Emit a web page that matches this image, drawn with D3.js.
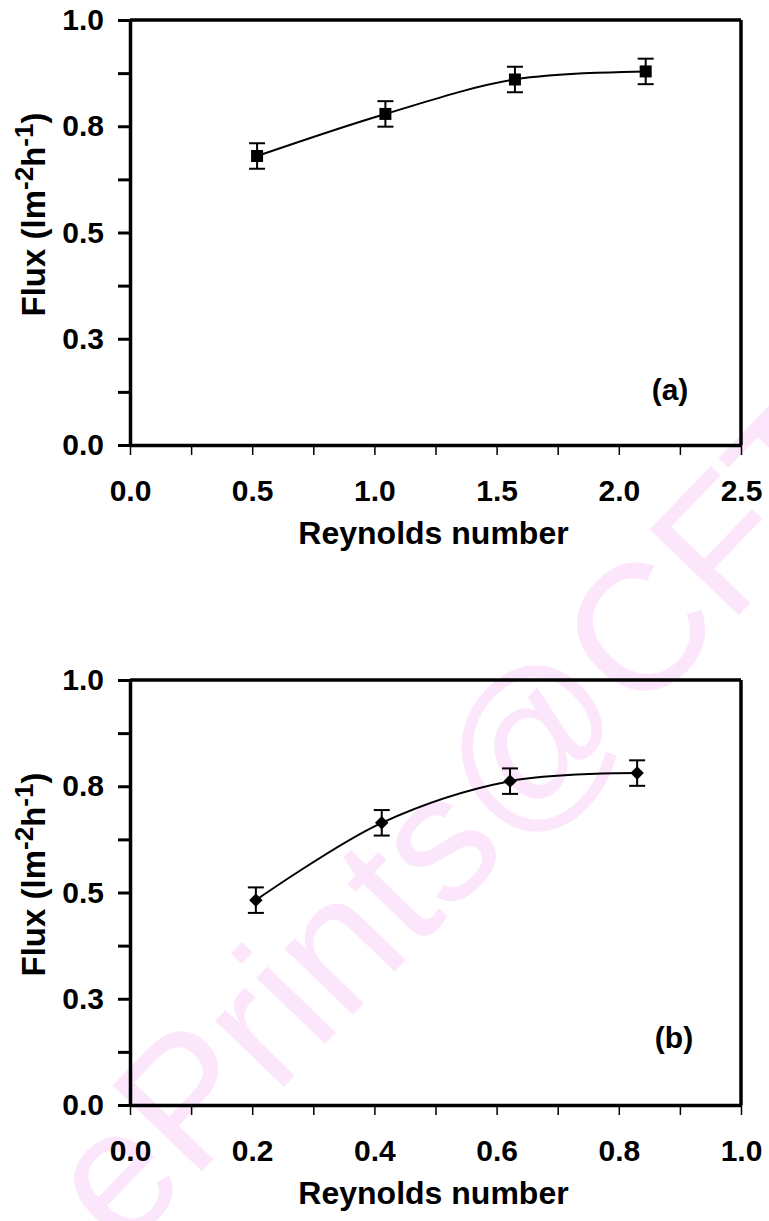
<!DOCTYPE html>
<html>
<head>
<meta charset="utf-8">
<script src="https://cdn.jsdelivr.net/npm/d3@7"></script>
<style>
  html, body { margin: 0; padding: 0; background: #fff; }
  svg { display: block; }
  text { font-family: "Liberation Sans", Arial, Helvetica, sans-serif; }
</style>
</head>
<body>
<svg id="chart" width="769" height="1221"></svg>
<script>
// ---- Panel (a): flux against Reynolds number (square markers)
const reynoldsA = [0.52, 1.045, 1.575, 2.11];
const fluxA     = [0.680, 0.779, 0.860, 0.879];
const errorA    = [0.03, 0.03, 0.03, 0.03];

// ---- Panel (b): flux against Reynolds number (diamond markers)
const reynoldsB = [0.206, 0.412, 0.622, 0.830];
const fluxB     = [0.482, 0.664, 0.762, 0.781];
const errorB    = [0.03, 0.03, 0.03, 0.03];

// ---- Axis ticks and labels
const yMajorTicks  = [0, 0.25, 0.5, 0.75, 1.0];
const yTickLabels  = ["0.0", "0.3", "0.5", "0.8", "1.0"];
const yMinorTicks  = [0.125, 0.375, 0.625, 0.875];

const xMajorTicksA = [0, 0.5, 1.0, 1.5, 2.0, 2.5];
const xTickLabelsA = ["0.0", "0.5", "1.0", "1.5", "2.0", "2.5"];
const xMinorTicksA = [0.25, 0.75, 1.25, 1.75, 2.25];

const xMajorTicksB = [0, 0.2, 0.4, 0.6, 0.8, 1.0];
const xTickLabelsB = ["0.0", "0.2", "0.4", "0.6", "0.8", "1.0"];
const xMinorTicksB = [0.1, 0.3, 0.5, 0.7, 0.9];

const panelLabels = ["(a)", "(b)"];
const xTitle = "Reynolds number";

const svg = d3.select("#chart");

// Faint repository stamp running diagonally behind both plots
svg.append("text")
  .attr("transform", "translate(122,1254) rotate(-46)")
  .attr("font-size", 180)
  .attr("fill", "#fce6fc")
  .text("ePrints@CFTRI");

const plotLeft = 130, plotWidth = 611, plotHeight = 425;
const fontSize = 30;
const titleSize = 32;

function drawPanel(cfg) {
  const g = svg.append("g").attr("transform", `translate(${plotLeft},${cfg.top})`);

  const x = d3.scaleLinear().domain(cfg.xDomain).range([0, plotWidth]);
  const y = d3.scaleLinear().domain([0, 1]).range([plotHeight, 0]);

  // frame: top and right edges
  g.append("line").attr("x1", 0).attr("x2", plotWidth).attr("y1", 0).attr("y2", 0)
    .attr("stroke", "#000").attr("stroke-width", 3.5);
  g.append("line").attr("x1", plotWidth).attr("x2", plotWidth).attr("y1", 0).attr("y2", plotHeight)
    .attr("stroke", "#000").attr("stroke-width", 3.5);

  // y axis
  const yTicks = yMajorTicks.concat(yMinorTicks).sort(d3.ascending);
  const yAxis = d3.axisLeft(y)
    .tickValues(yTicks)
    .tickSize(12)
    .tickSizeOuter(0)
    .tickPadding(14)
    .tickFormat(v => {
      const i = yMajorTicks.indexOf(v);
      return i >= 0 ? yTickLabels[i] : "";
    });
  const ya = g.append("g").call(yAxis);
  ya.select(".domain").attr("stroke-width", 3.5);
  ya.selectAll(".tick line").attr("stroke-width", 3);
  ya.selectAll(".tick text")
    .attr("font-size", fontSize).attr("font-weight", "bold")
    .attr("font-family", "Liberation Sans, Arial, sans-serif").attr("fill", "#000");

  // x axis
  const xTicks = cfg.xMajor.concat(cfg.xMinor).sort(d3.ascending);
  const xAxis = d3.axisBottom(x)
    .tickValues(xTicks)
    .tickSize(10)
    .tickSizeOuter(0)
    .tickPadding(25)
    .tickFormat(v => {
      const i = cfg.xMajor.indexOf(v);
      return i >= 0 ? cfg.xLabels[i] : "";
    });
  const xa = g.append("g").attr("transform", `translate(0,${plotHeight})`).call(xAxis);
  xa.select(".domain").attr("stroke-width", 3.5);
  xa.selectAll(".tick line").attr("stroke-width", 1.5);
  xa.selectAll(".tick text")
    .attr("font-size", fontSize).attr("font-weight", "bold")
    .attr("font-family", "Liberation Sans, Arial, sans-serif").attr("fill", "#000");

  // axis titles
  g.append("text")
    .attr("x", plotWidth / 2 - 2).attr("y", plotHeight + 99)
    .attr("text-anchor", "middle")
    .attr("font-size", titleSize).attr("font-weight", "bold")
    .text(xTitle);

  const yt = g.append("text")
    .attr("transform", `translate(${45 - plotLeft},${plotHeight / 2 - 18}) rotate(-90)`)
    .attr("text-anchor", "middle")
    .attr("font-size", 33).attr("font-weight", "bold");
  yt.append("tspan").text("Flux (lm");
  yt.append("tspan").attr("font-size", 26).attr("dy", -12).text("-2");
  yt.append("tspan").attr("dy", 12).text("h");
  yt.append("tspan").attr("font-size", 26).attr("dy", -12).text("-1");
  yt.append("tspan").attr("dy", 12).text(")");

  // panel tag
  g.append("text")
    .attr("x", cfg.tagX).attr("y", cfg.tagY)
    .attr("text-anchor", "middle")
    .attr("font-size", fontSize).attr("font-weight", "bold")
    .text(cfg.tag);

  const pts = cfg.xs.map((v, i) => ({ x: v, y: cfg.ys[i], e: cfg.errs[i] }));

  // smooth connecting curve
  const line = d3.line()
    .x(d => x(d.x)).y(d => y(d.y))
    .curve(d3.curveCatmullRom.alpha(0.5));
  g.append("path").datum(pts)
    .attr("d", line)
    .attr("fill", "none").attr("stroke", "#000").attr("stroke-width", 2);

  // error bars
  const eb = g.selectAll(".err").data(pts).enter().append("g");
  eb.append("line")
    .attr("x1", d => x(d.x)).attr("x2", d => x(d.x))
    .attr("y1", d => y(d.y + d.e)).attr("y2", d => y(d.y - d.e))
    .attr("stroke", "#000").attr("stroke-width", 2);
  [1, -1].forEach(s => {
    eb.append("line")
      .attr("x1", d => x(d.x) - 8).attr("x2", d => x(d.x) + 8)
      .attr("y1", d => y(d.y + s * d.e)).attr("y2", d => y(d.y + s * d.e))
      .attr("stroke", "#000").attr("stroke-width", 2);
  });

  // markers
  g.selectAll(".mk").data(pts).enter().append("path")
    .attr("transform", d => `translate(${x(d.x)},${y(d.y)}) rotate(${cfg.markerRotate})`)
    .attr("d", d3.symbol().type(d3.symbolSquare).size(cfg.markerSize)())
    .attr("fill", "#000");
}

drawPanel({
  top: 20, xDomain: [0, 2.5],
  xMajor: xMajorTicksA, xLabels: xTickLabelsA, xMinor: xMinorTicksA,
  xs: reynoldsA, ys: fluxA, errs: errorA,
  tag: panelLabels[0], tagX: 540, tagY: 380,
  markerSize: 144, markerRotate: 0
});

drawPanel({
  top: 680, xDomain: [0, 1.0],
  xMajor: xMajorTicksB, xLabels: xTickLabelsB, xMinor: xMinorTicksB,
  xs: reynoldsB, ys: fluxB, errs: errorB,
  tag: panelLabels[1], tagX: 544, tagY: 368,
  markerSize: 90, markerRotate: 45
});
</script>
</body>
</html>
